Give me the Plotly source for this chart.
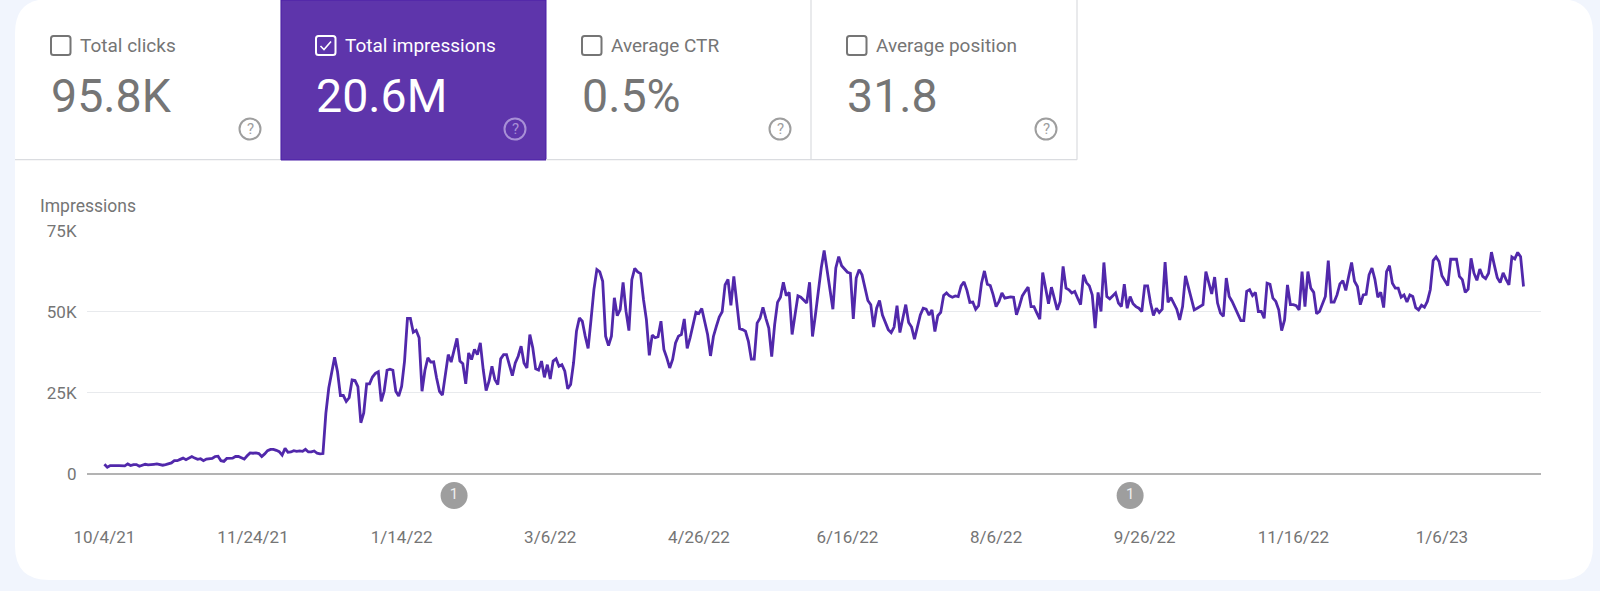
import pandas as pd
import plotly.graph_objects as go

W = 1600
H = 591

START_DATE = "2021-10-04"

# daily impressions, in thousands
impressions_k = [
    # Oct - Dec 2021, flat part
    3.0, 2.1, 2.6, 2.5, 2.6, 2.6, 2.5, 2.5, 3.1, 2.6, 2.9, 2.9, 2.4, 2.6, 3.0, 2.8,
    3.0, 3.0, 3.1, 2.8, 2.7, 2.9, 3.1, 3.4, 4.1, 4.1, 4.5, 4.9, 4.4, 4.9, 5.4, 4.9,
    4.5, 4.7, 4.1, 4.6, 4.7, 4.8, 5.4, 5.5, 4.1, 3.9, 4.8, 4.8, 4.9, 5.4, 5.4, 5.0,
    4.6, 5.6, 6.5, 6.4, 6.5, 6.3, 5.4, 6.2, 7.2, 7.6, 7.6, 7.3, 6.9, 5.8, 7.9, 6.7,
    6.8, 7.2, 7.0, 7.1, 7.0, 7.6, 6.8, 6.8, 7.1, 6.4, 6.2, 6.3,
    # jump
    18.7, 26.5, 31.0, 36.0, 31.5, 24.2, 24.2, 22.4, 23.5, 29.0, 28.8, 26.9, 15.8, 18.8,
    27.8, 27.8, 29.9, 31.0, 31.5, 22.4, 25.5, 32.0, 32.3, 32.0, 25.5, 24.0, 27.0, 34.8,
    48.0, 48.0, 43.7, 44.3, 42.0, 25.5, 32.0, 35.8, 34.5, 34.6, 29.6, 25.5, 24.3, 30.7,
    36.8, 34.5, 38.0, 41.8, 34.8, 34.0, 27.8, 37.3, 35.3, 38.4, 36.8, 40.4, 32.2, 25.7,
    28.6, 33.2, 29.1, 27.6, 35.5,
    # 2022 spring
    36.8, 36.8, 33.7, 30.3, 34.2, 36.3, 39.4, 34.2, 32.7, 43.0, 38.9, 32.4, 32.0, 34.8,
    29.8, 33.7, 29.3, 34.8, 35.5, 33.2, 33.7, 31.7, 26.3, 27.6, 34.2, 44.0, 48.1, 47.1,
    42.5, 38.7, 47.6, 56.9, 63.0, 62.3, 59.4, 42.5, 39.6, 42.5, 54.3, 48.8, 50.7, 59.1,
    50.2, 44.2, 59.9, 63.4, 62.3, 61.8, 53.8, 47.6, 36.6, 42.8, 42.0, 42.3, 47.1, 38.4,
    35.8, 32.7, 35.3, 40.4, 42.5, 43.0, 47.8, 38.7, 42.0, 45.6, 49.9, 49.5,
    # 2022 summer
    51.0, 47.0, 43.0, 36.4, 42.4, 45.5, 48.4, 50.0, 58.3, 60.0, 52.0, 60.9, 52.7, 44.8,
    44.5, 44.0, 40.9, 35.4, 35.4, 46.5, 48.0, 51.4, 48.0, 45.0, 36.2, 46.0, 52.9, 54.5,
    59.1, 55.0, 56.0, 43.0, 49.0, 54.9, 54.5, 53.7, 52.7, 59.1, 42.4, 49.0, 56.8, 63.5,
    68.9, 63.0, 56.8, 50.8, 63.5, 67.0, 64.2, 63.3, 62.2, 61.9, 47.8, 60.4, 63.0, 61.4,
    57.0, 53.5, 52.2, 45.3, 51.1, 53.5, 49.0, 46.5, 44.5, 43.6, 45.3, 51.9, 43.6,
    # July - Sep 2022
    48.0, 52.2, 46.7, 45.3, 41.6, 45.7, 49.0, 51.1, 50.8, 49.0, 50.6, 43.9, 48.8, 49.8,
    55.0, 55.8, 54.9, 54.5, 54.9, 54.7, 58.0, 59.2, 56.6, 52.9, 53.0, 50.8, 51.9, 58.8,
    62.6, 58.5, 58.1, 55.2, 51.6, 53.2, 55.8, 54.2, 54.4, 54.6, 54.5, 49.1, 51.8, 54.9,
    56.3, 57.6, 51.6, 51.6, 49.6, 47.7, 62.1, 56.8, 52.5, 57.6, 54.2, 50.6, 53.2, 64.0,
    57.3, 56.8, 55.8, 56.3, 54.2, 52.2, 61.4, 59.0, 58.0, 55.2, 45.0, 56.0,
    # Sep - Nov 2022
    50.1, 65.2, 54.7, 54.0, 54.9, 55.8, 52.7, 51.6, 58.5, 51.1, 54.7, 52.5, 51.6, 51.1,
    50.1, 58.0, 58.0, 52.7, 48.9, 51.1, 49.8, 50.8, 65.3, 52.9, 54.4, 52.7, 50.8, 47.5,
    51.6, 61.1, 57.8, 53.9, 50.6, 51.1, 51.6, 52.2, 62.4, 58.8, 55.5, 60.7, 52.7, 49.6,
    48.6, 60.4, 54.7, 53.2, 51.4, 49.6, 47.3, 47.3, 56.3, 56.8, 55.0, 56.0, 50.1, 50.1,
    48.0, 58.8, 58.5, 54.2, 53.2, 50.6, 44.2, 47.5, 58.3, 52.2, 52.2, 51.9, 50.6,
    # Nov 2022 - Feb 2023
    62.4, 51.6, 62.4, 57.3, 56.0, 49.4, 50.1, 52.2, 54.7, 65.8, 53.0, 53.0, 55.2, 58.6,
    59.6, 56.6, 61.4, 65.2, 59.4, 57.8, 52.2, 55.2, 55.4, 61.4, 63.5, 60.0, 54.5, 56.0,
    51.3, 62.4, 64.2, 58.8, 57.3, 57.3, 54.5, 55.2, 53.0, 55.2, 54.7, 51.3, 50.6, 52.0,
    51.4, 53.2, 56.8, 65.8, 66.9, 65.5, 61.1, 59.4, 58.1, 66.2, 66.2, 66.2, 60.9, 59.9,
    56.0, 57.0, 66.5, 61.9, 59.7, 63.2, 60.9, 60.2, 61.9, 68.4, 64.3, 60.5, 59.0, 62.0,
    60.0, 58.3, 66.9, 66.3, 68.3, 67.0, 57.8,
]

tick_dates = ["2021-10-04", "2021-11-24", "2022-01-14", "2022-03-06", "2022-04-26",
              "2022-06-16", "2022-08-06", "2022-09-26", "2022-11-16", "2023-01-06"]
tick_labels = ["10/4/21", "11/24/21", "1/14/22", "3/6/22", "4/26/22",
               "6/16/22", "8/6/22", "9/26/22", "11/16/22", "1/6/23"]
y_ticks = [0, 25, 50, 75]
y_labels = ["0", "25K", "50K", "75K"]

annotation_dates = ["2022-02-01", "2022-09-21"]
annotation_counts = ["1", "1"]

tile_names = ["Total clicks", "Total impressions", "Average CTR", "Average position"]
tile_values = ["95.8K", "20.6M", "0.5%", "31.8"]

PURPLE = "#5e35ab"
LINE = "#5128ab"
GRAY = "#757575"
FONT = "Roboto"

# the y axis runs a little below zero so the badges stay inside its range
Y_PX_PER_K = (474 - 230.7) / 75
Y_BOTTOM = -(515 - 474) / Y_PX_PER_K
BADGE_Y = -(495.5 - 474) / Y_PX_PER_K


def px(x):
    return x / W


def py(y):
    return 1 - y / H


def rounded(x0, y0, x1, y1, r):
    # rounded rectangle as an svg path, in paper coordinates
    pts = [f"M {px(x0 + r)} {py(y0)}", f"L {px(x1 - r)} {py(y0)}",
           f"Q {px(x1)} {py(y0)} {px(x1)} {py(y0 + r)}", f"L {px(x1)} {py(y1 - r)}",
           f"Q {px(x1)} {py(y1)} {px(x1 - r)} {py(y1)}", f"L {px(x0 + r)} {py(y1)}",
           f"Q {px(x0)} {py(y1)} {px(x0)} {py(y1 - r)}", f"L {px(x0)} {py(y0 + r)}",
           f"Q {px(x0)} {py(y0)} {px(x0 + r)} {py(y0)} Z"]
    return " ".join(pts)


def text(x, y, s, size, color, anchor="left"):
    fig.add_annotation(xref="paper", yref="paper", x=px(x), y=py(y), text=s,
                       showarrow=False, xanchor=anchor, yanchor="middle",
                       borderpad=0, font=dict(family=FONT, size=size, color=color))


dates = pd.date_range(START_DATE, periods=len(impressions_k), freq="D")

fig = go.Figure()
fig.add_trace(go.Scatter(x=dates, y=impressions_k, mode="lines",
                         line=dict(color=LINE, width=2.8), hoverinfo="skip"))
# the grey numbered badges under the axis
fig.add_trace(go.Scatter(x=annotation_dates, y=[BADGE_Y] * len(annotation_dates), mode="markers+text",
                         text=annotation_counts, textposition="middle center",
                         textfont=dict(family=FONT, size=15, color="#eeeeee"),
                         marker=dict(size=27, color="#9e9e9e"), hoverinfo="skip"))

# white card
fig.add_shape(type="path", xref="paper", yref="paper", layer="below",
              path=rounded(15, -1, 1593, 580, 34), fillcolor="white", line_width=0)

# metric tiles
tile_x = [15, 281, 546, 811]
tile_end = [281, 546, 811, 1077]
for i in range(4):
    x0 = tile_x[i]
    active = i == 1
    if active:
        fig.add_shape(type="rect", xref="paper", yref="paper", layer="below",
                      x0=px(x0), x1=px(tile_end[i]), y0=py(160), y1=py(0),
                      fillcolor=PURPLE, line=dict(color="#4a1fa8", width=1))
    else:
        fig.add_shape(type="line", xref="paper", yref="paper", layer="below",
                      x0=px(x0), x1=px(tile_end[i]), y0=py(159.7), y1=py(159.7),
                      line=dict(color="#dadce0", width=1.2))
        fig.add_shape(type="line", xref="paper", yref="paper", layer="below",
                      x0=px(tile_end[i]), x1=px(tile_end[i]), y0=py(0), y1=py(159.7),
                      line=dict(color="#dadce0", width=1.2))
    left = x0 + 36
    if i == 1:
        left = x0 + 35
    color = "white" if active else GRAY
    # checkbox
    fig.add_shape(type="path", xref="paper", yref="paper",
                  path=rounded(left, 36, left + 19.5, 55, 2.5),
                  fillcolor="rgba(0,0,0,0)", line=dict(color=color, width=2))
    if active:
        fig.add_shape(type="path", xref="paper", yref="paper",
                      path=f"M {px(left + 4.5)} {py(46)} L {px(left + 8)} {py(49.5)} L {px(left + 15)} {py(41.5)}",
                      line=dict(color="white", width=1.6))
    text(left + 28, 45.5, tile_names[i], 19, color)
    text(left - 1, 96, tile_values[i], 46.5, color)
    # help icon
    icon = "#a890d6" if active else "#9e9e9e"
    cx = tile_end[i] - 31
    fig.add_shape(type="circle", xref="paper", yref="paper",
                  x0=px(cx - 10.5), x1=px(cx + 10.5), y0=py(129 + 10.5), y1=py(129 - 10.5),
                  line=dict(color=icon, width=2))
    text(cx, 129, "?", 15, icon, anchor="center")

text(38.5, 206, "Impressions", 17.5, GRAY)

x_left = dates[0] - pd.Timedelta(days=5.97)
x_right = dates[0] + pd.Timedelta(days=493)

fig.update_layout(
    width=W, height=H, margin=dict(l=0, r=0, t=0, b=0),
    paper_bgcolor="#f1f5fd", plot_bgcolor="rgba(0,0,0,0)", showlegend=False,
    font=dict(family=FONT, color=GRAY),
    xaxis=dict(domain=[px(87), px(1541)], range=[x_left, x_right], type="date", automargin=False,
               tickvals=tick_dates, ticktext=tick_labels, showgrid=False, zeroline=False,
               ticks="outside", ticklen=7, tickcolor="rgba(0,0,0,0)", tickfont=dict(size=17, color=GRAY)),
    yaxis=dict(domain=[py(515), py(230.7)], range=[Y_BOTTOM, 75], automargin=False,
               tickvals=y_ticks, ticktext=y_labels,
               showgrid=True, gridcolor="#e8eaed", gridwidth=1, zeroline=True,
               zerolinecolor="#b3b3b3", zerolinewidth=1.6,
               ticks="outside", ticklen=6, tickcolor="rgba(0,0,0,0)", tickfont=dict(size=17, color=GRAY)),
)

fig.write_html("out.html", config={"displayModeBar": False},
               post_script="document.body.style.margin='0';")
